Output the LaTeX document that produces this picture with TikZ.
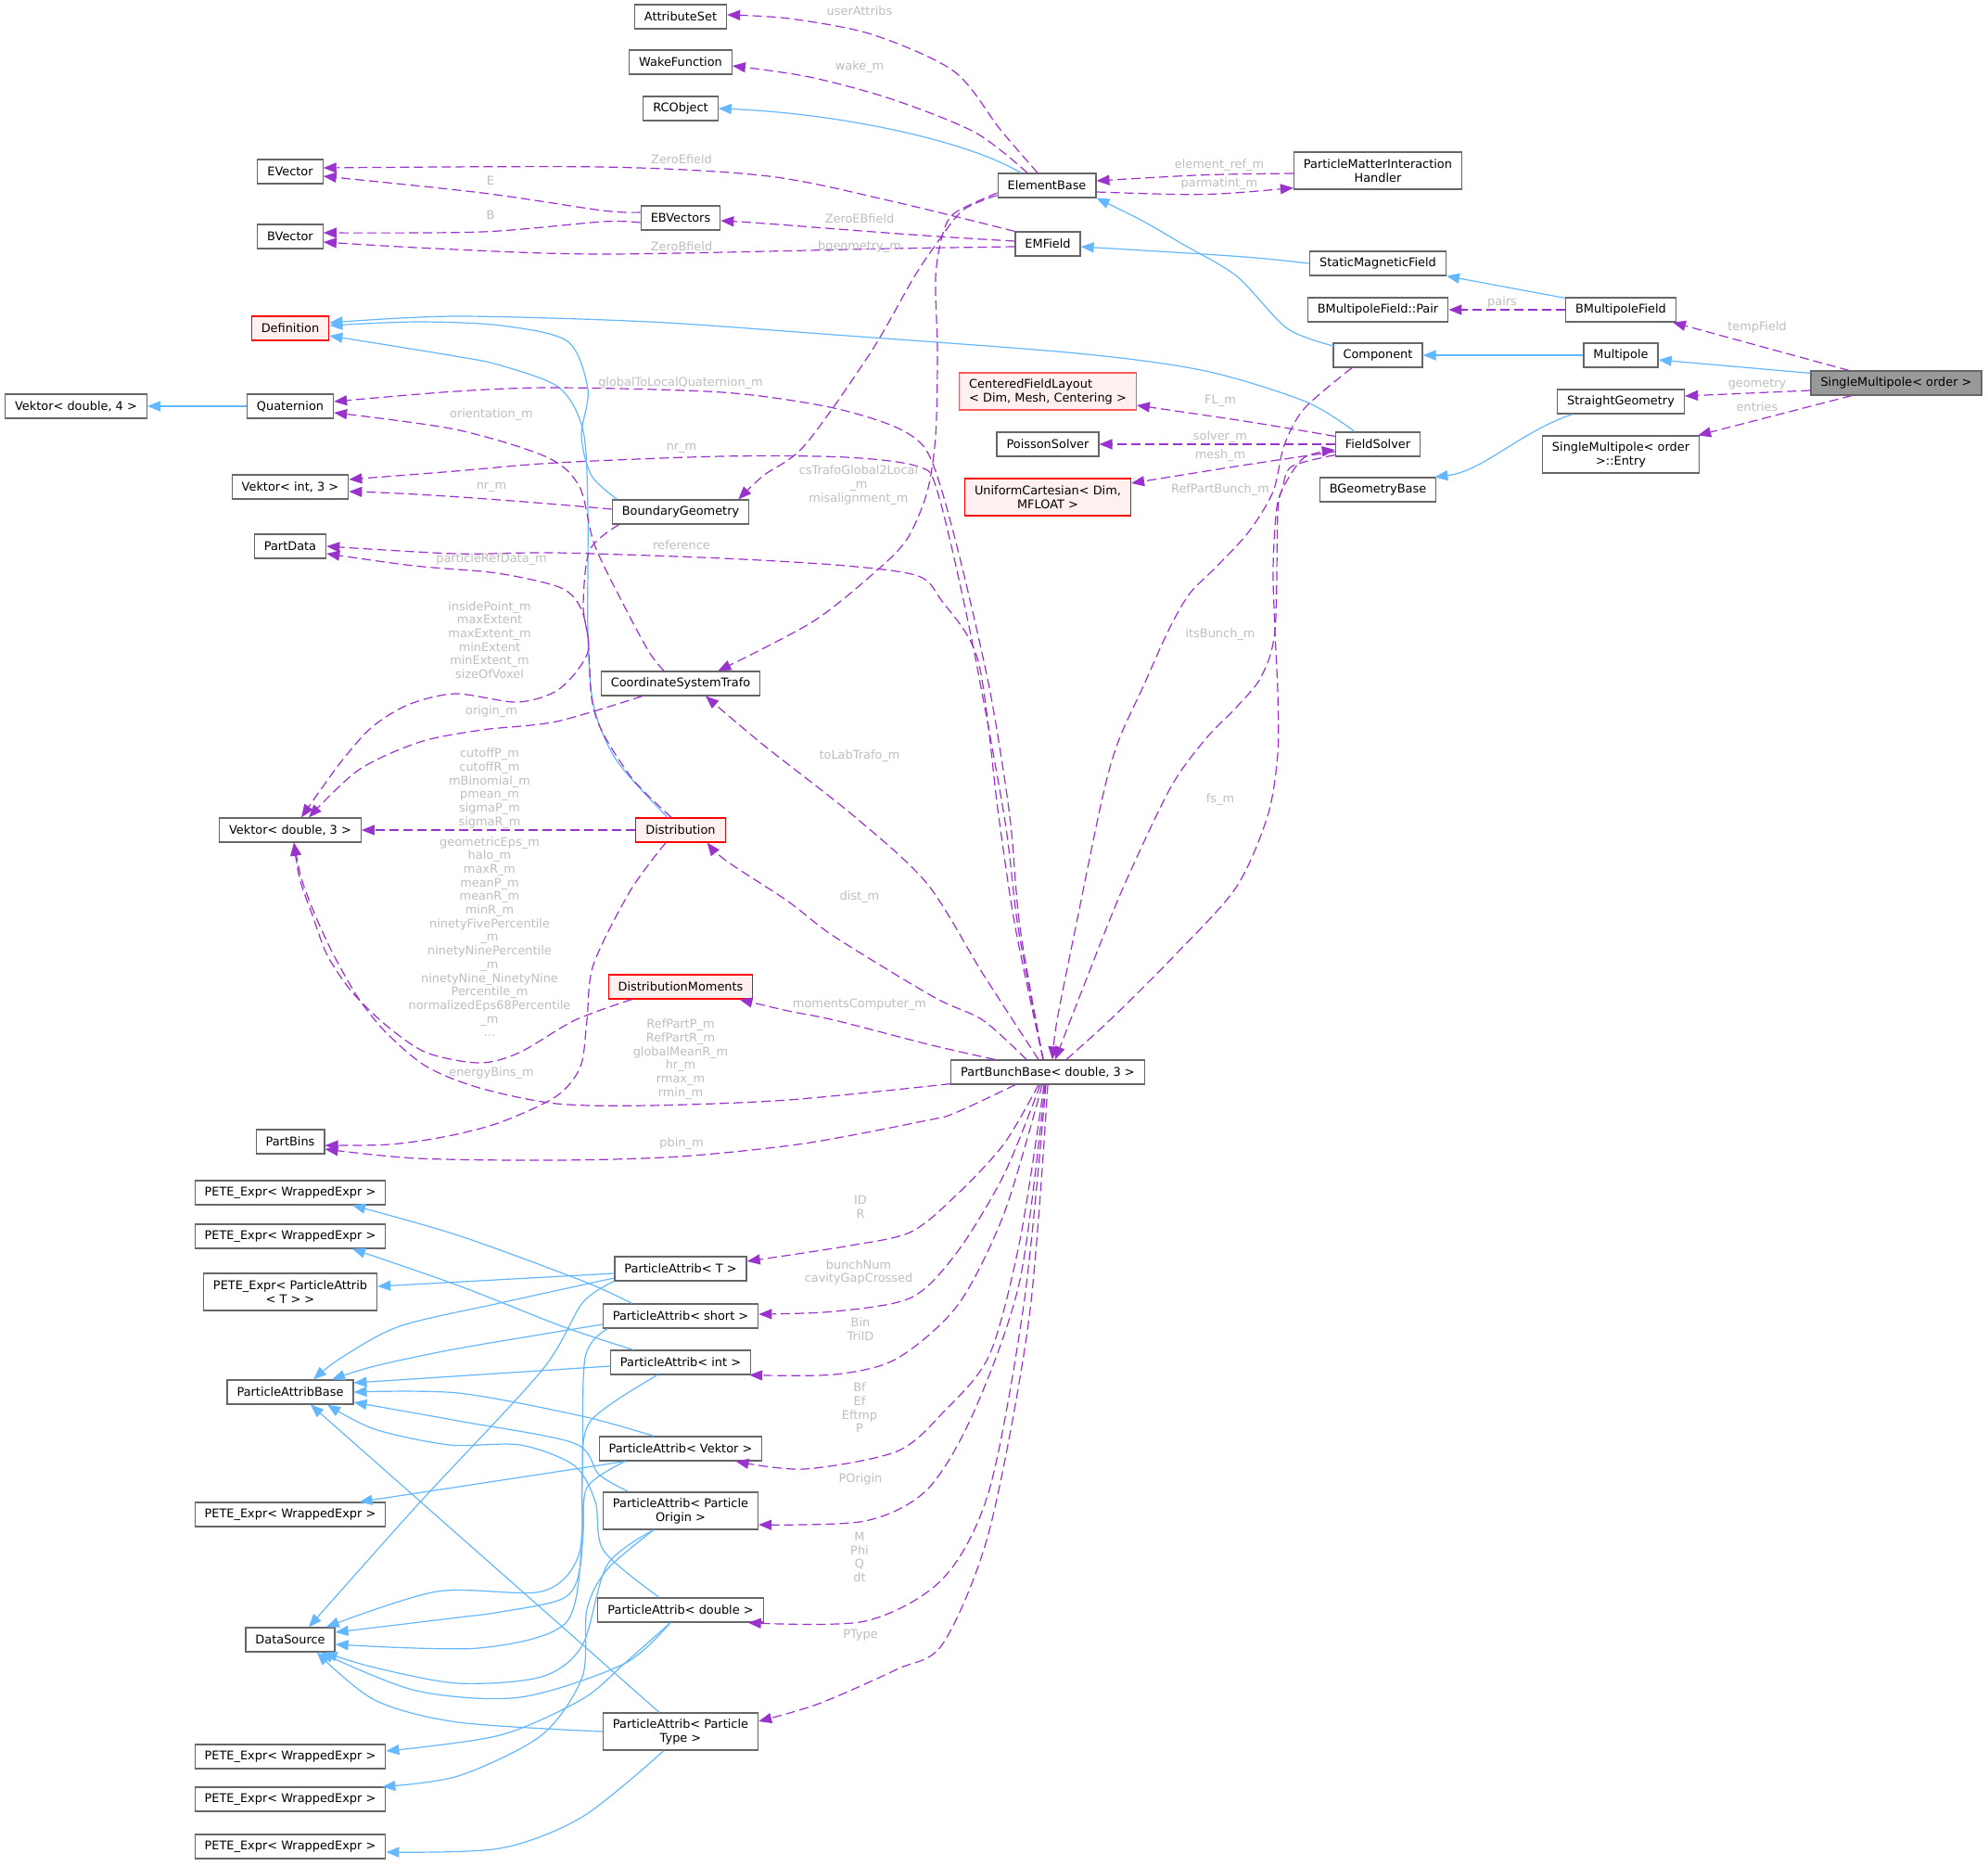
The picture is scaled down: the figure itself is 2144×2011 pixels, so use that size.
\documentclass[tikz,border=0pt]{standalone}
\usepackage{fontspec}
\setmainfont{DejaVu Sans}
\usetikzlibrary{arrows.meta,calc}
\definecolor{nodegray}{RGB}{102,102,102}
\definecolor{inhblue}{RGB}{99,184,255}
\definecolor{usepurple}{RGB}{154,50,205}
\definecolor{lblgray}{RGB}{190,190,190}
\definecolor{pinkfill}{RGB}{255,240,240}
\definecolor{lightred}{RGB}{255,90,90}
\definecolor{selfill}{RGB}{153,153,153}
\newcommand{\nfont}{\fontsize{12.9}{15}\selectfont}
\newcommand{\lfont}{\fontsize{12.9}{14.7}\selectfont}
\begin{document}
\begin{tikzpicture}[x=1pt,y=-1pt,
  box/.style={draw=nodegray, line width=1.2pt, fill=white, font=\nfont, inner xsep=10.5pt, inner ysep=5pt, minimum height=26pt, align=center},
  tall/.style={minimum height=40pt},
  redbox/.style={box, draw=red, fill=pinkfill},
  inh/.style={draw=inhblue, line width=1.2pt, -{Triangle[length=14pt,width=11pt]}},
  use/.style={draw=usepurple, line width=1.2pt, dash pattern=on 10pt off 5pt, -{Triangle[length=14pt,width=11pt]}},
  lbl/.style={font=\lfont, text=lblgray, align=center, inner sep=0pt},
]
\fill[white] (0,0) rectangle (2144,2011);
\useasboundingbox (0,0) rectangle (2144,2011);

% ---------- nodes ----------
\node[box] (attr) at (734,18) {AttributeSet};
\node[box] (wake) at (734,67) {WakeFunction};
\node[box] (rco) at (734,117) {RCObject};
\node[box] (evec) at (313,185) {EVector};
\node[box] (ebv) at (734,235) {EBVectors};
\node[box] (bvec) at (313,255) {BVector};
\node[box] (elem) at (1129,200) {ElementBase};
\node[box] (emf) at (1130,263) {EMField};
\node[box, tall] (pmih) at (1486,184) {ParticleMatterInteraction\\Handler};
\node[box] (smf) at (1486,284) {StaticMagneticField};
\node[box] (pair) at (1486,334) {BMultipoleField::Pair};
\node[box] (bmf) at (1748,334) {BMultipoleField};
\node[box] (comp) at (1486,383) {Component};
\node[box] (mpole) at (1748,383) {Multipole};
\node[box, fill=selfill] (smp) at (2045,413) {SingleMultipole< order >};
\node[box] (sgeo) at (1748,433) {StraightGeometry};
\node[box, tall] (entry) at (1748,490) {SingleMultipole< order\\>::Entry};
\node[box] (fsol) at (1486,479) {FieldSolver};
\node[box] (bgb) at (1486,528) {BGeometryBase};
\node[redbox] (defn) at (313,354) {Definition};
\node[box] (vek4) at (82,438) {Vektor< double, 4 >};
\node[box] (quat) at (313,438) {Quaternion};
\node[box] (vint3) at (313,525) {Vektor< int, 3 >};
\node[box] (pdata) at (313,589) {PartData};
\node[box] (bgeom) at (734,552) {BoundaryGeometry};
\node[box] (cst) at (734,737) {CoordinateSystemTrafo};
\node[redbox, tall, draw=lightred, align=left] (cfl) at (1130,422) {CenteredFieldLayout\\< Dim, Mesh, Centering >};
\node[box] (pois) at (1130,479) {PoissonSolver};
\node[redbox, tall] (ucart) at (1130,536) {UniformCartesian< Dim,\\MFLOAT >};
\node[box] (vd3) at (313,895) {Vektor< double, 3 >};
\node[redbox] (dist) at (734,895) {Distribution};
\node[redbox] (dmom) at (734,1064) {DistributionMoments};
\node[box] (pbb) at (1130,1156) {PartBunchBase< double, 3 >};
\node[box] (pbins) at (313,1231) {PartBins};
\node[box] (pete1) at (313,1286) {PETE\_Expr< WrappedExpr >};
\node[box] (pete2) at (313,1333) {PETE\_Expr< WrappedExpr >};
\node[box, tall] (petepa) at (313,1393) {PETE\_Expr< ParticleAttrib\\< T > >};
\node[box] (pab) at (313,1501) {ParticleAttribBase};
\node[box] (pete3) at (313,1633) {PETE\_Expr< WrappedExpr >};
\node[box] (dsrc) at (313,1768) {DataSource};
\node[box] (pete4) at (313,1894) {PETE\_Expr< WrappedExpr >};
\node[box] (pete5) at (313,1940) {PETE\_Expr< WrappedExpr >};
\node[box] (pete6) at (313,1991) {PETE\_Expr< WrappedExpr >};
\node[box] (pat) at (734,1368) {ParticleAttrib< T >};
\node[box] (pash) at (734,1419) {ParticleAttrib< short >};
\node[box] (paint) at (734,1469) {ParticleAttrib< int >};
\node[box] (pavek) at (734,1562) {ParticleAttrib< Vektor >};
\node[box, tall] (papo) at (734,1629) {ParticleAttrib< Particle\\Origin >};
\node[box] (padbl) at (734,1736) {ParticleAttrib< double >};
\node[box, tall] (papt) at (734,1867) {ParticleAttrib< Particle\\Type >};

% ---------- inheritance (blue) ----------
\draw[inh] ($(elem.north)+(-28,0)$) .. controls (1040,150) and (900,122) .. (rco.east);
\draw[inh] plot[smooth] coordinates {($(comp.north west)+(2,4)$) (1388,354) (1334,298) (1275,263) (1230,237) (elem.south east)};
\draw[inh] (smf.west) .. controls (1350,277) .. ($(emf.east)+(0,3)$);
\draw[inh] ($(bmf.north west)+(0,1)$) -- (smf.south east);
\draw[inh] (mpole.west) -- (comp.east);
\draw[inh] ($(smp.north west)+(0,3)$) -- ($(mpole.east)+(0,5)$);
\draw[inh] ($(sgeo.south west)+(17,0)$) .. controls (1640,465) and (1600,508) .. ($(bgb.north east)+(-2,0)$);
\draw[inh] plot[smooth] coordinates {($(fsol.north)+(-25,0)$) (1408,433) (1300,400) (1162,381) (900,361) (700,347) (491,341) ($(defn.east)+(0,-6)$)};
\draw[inh] plot[smooth] coordinates {($(bgeom.north west)+(6,0)$) (638,513) (627,470) (634,420) (612,368) (540,351) (450,347) ($(defn.east)+(0,-3)$)};
\draw[inh] plot[smooth] coordinates {($(dist.north)+(-14,0)$) (665,820) (640,760) (634,680) (634,553) (629,465) (603,418) (540,394) (491,384) ($(defn.east)+(0,8)$)};
\draw[inh] (quat.west) -- (vek4.east);

% ParticleAttrib inheritance
\draw[inh] ($(pat.west)+(0,5)$) -- ($(petepa.east)+(0,-6)$);
\draw[inh] plot[smooth] coordinates {($(pat.west)+(0,10)$) (539,1405) (431,1430) (368,1464) ($(pab.north)+(25,0)$)};
\draw[inh] plot[smooth] coordinates {(pat.south west) (628,1405) (584,1478) (449,1624) ($(dsrc.north)+(20,0)$)};
\draw[inh] plot[smooth] coordinates {($(pash.north west)+(32,0)$) (628,1381) (494,1332) ($(pete1.south)+(67,0)$)};
\draw[inh] plot[smooth] coordinates {($(pash.west)+(0,9)$) (494,1454) (404,1473) ($(pab.north)+(45,0)$)};
\draw[inh] plot[smooth] coordinates {($(pash.south west)+(6,0)$) (631,1464) (628,1590) (624,1677) (584,1716) (471,1716) ($(dsrc.north east)+(-10,0)$)};
\draw[inh] plot[smooth] coordinates {($(paint.north west)+(25,0)$) (606,1430) (494,1386) ($(pete2.south)+(67,0)$)};
\draw[inh] ($(paint.west)+(0,4)$) -- ($(pab.east)+(0,-10)$);
\draw[inh] plot[smooth] coordinates {($(paint.south)+(-25,0)$) (637,1532) (628,1590) (627,1680) (610,1722) (540,1738) (494,1744) ($(dsrc.east)+(0,-8)$)};
\draw[inh] plot[smooth] coordinates {($(pavek.north)+(-29,0)$) (628,1527) (494,1502) (pab.east)};
\draw[inh] ($(pavek.south west)+(29,0)$) -- ($(pete3.north east)+(-29,0)$);
\draw[inh] plot[smooth] coordinates {($(pavek.south west)+(29,0)$) (633,1604) (628,1663) (610,1750) (516,1777) ($(dsrc.east)+(0,5)$)};
\draw[inh] plot[smooth] coordinates {($(papo.north)+(-56,0)$) (646,1590) (619,1556) (494,1532) ($(pab.east)+(0,11)$)};
\draw[inh] plot[smooth] coordinates {($(papo.south)+(-29,0)$) (655,1687) (628,1774) (584,1808) (494,1815) (404,1798) ($(dsrc.south east)+(-12,0)$)};
\draw[inh] plot[smooth] coordinates {($(papo.south)+(-29,0)$) (655,1692) (633,1735) (628,1808) (584,1871) (494,1915) ($(pete5.north east)+(-4,0)$)};
\draw[inh] plot[smooth] coordinates {($(padbl.north)+(-23,0)$) (651,1672) (642,1619) (619,1580) (561,1558) (485,1558) (404,1541) ($(pab.south)+(40,0)$)};
\draw[inh] plot[smooth] coordinates {($(padbl.south)+(-11,0)$) (673,1794) (561,1830) (449,1823) ($(dsrc.south east)+(-16,0)$)};
\draw[inh] plot[smooth] coordinates {($(padbl.south)+(-11,0)$) (673,1794) (628,1832) (539,1871) ($(pete4.east)+(0,-6)$)};
\draw[inh] ($(papt.north)+(-23,0)$) -- ($(pab.south)+(22,0)$);
\draw[inh] plot[smooth] coordinates {(papt.west) (494,1857) (404,1833) ($(dsrc.south east)+(-20,0)$)};
\draw[inh] plot[smooth] coordinates {($(papt.south)+(-18,0)$) (628,1959) (539,1993) ($(pete6.east)+(0,6)$)};

% ---------- usage (purple dashed) ----------
\draw[use] plot[smooth] coordinates {($(elem.north)+(-10,0)$) (1079,140) (1029,77) (940,37) (851,20) ($(attr.east)+(0,-2)$)};
\draw[use] plot[smooth] coordinates {($(elem.north)+(-21,0)$) (1052,143) (962,107) (873,83) ($(wake.east)+(0,4)$)};
\draw[use] plot[smooth] coordinates {(emf.north west) (962,217) (829,190) (650,180) ($(evec.east)+(0,-4)$)};
\draw[use] plot[smooth] coordinates {($(ebv.west)+(0,-6)$) (650,227) (520,208) ($(evec.east)+(0,5)$)};
\draw[use] plot[smooth] coordinates {($(ebv.west)+(0,5)$) (650,239) (520,250) ($(bvec.east)+(0,-4)$)};
\draw[use] ($(emf.west)+(0,-3)$) .. controls (950,252) and (850,242) .. ($(ebv.east)+(0,3)$);
\draw[use] plot[smooth] coordinates {($(emf.west)+(0,3)$) (962,268) (650,274) (470,268) ($(bvec.east)+(0,6)$)};
\draw[use] ($(pmih.west)+(0,3)$) .. controls (1300,188) .. ($(elem.east)+(0,-5)$);
\draw[use] ($(elem.east)+(0,7)$) .. controls (1300,211) .. ($(pmih.south west)+(0,-2)$);
\draw[use] (bmf.west) -- (pair.east);
\draw[use] ($(smp.north)+(-51,0)$) -- ($(bmf.south east)+(-4,0)$);
\draw[use] ($(smp.west)+(0,8)$) -- ($(sgeo.east)+(0,-6)$);
\draw[use] ($(smp.south)+(-48,0)$) -- ($(entry.north east)+(-2,0)$);
\draw[use] ($(fsol.north west)+(0,5)$) .. controls (1350,455) .. ($(cfl.east)+(0,15)$);
\draw[use] (fsol.west) -- (pois.east);
\draw[use] ($(fsol.west)+(0,8)$) .. controls (1350,500) .. ($(ucart.east)+(0,-15)$);
\draw[use] plot[smooth] coordinates {($(elem.south west)+(0,-3)$) (1038,227) (1007,267) (985,300) (939,380) (868,480) (823,513) ($(bgeom.north east)+(-12,0)$)};
\draw[use] plot[smooth] coordinates {($(elem.west)+(0,8)$) (1029,230) (1016,255) (1009,300) (1011,380) (1009,470) (1000,530) (979,580) (948,613) (877,670) ($(cst.north east)+(-46,0)$)};
\draw[use] plot[smooth] coordinates {($(pbb.north)+(-5,0)$) (1100,1000) (1089,880) (1068,747) (1038,613) (1013,520) (995,480) (960,458) (890,438) (779,423) (600,418) (491,422) ($(quat.east)+(0,-5)$)};
\draw[use] plot[smooth] coordinates {($(pbb.north)+(-5,0)$) (1098,1000) (1083,880) (1046,680) (1011,530) (990,503) (912,493) (779,492) (600,499) (491,508) ($(vint3.east)+(0,-8)$)};
\draw[use] plot[smooth] coordinates {($(pbb.north)+(-5,0)$) (1095,1000) (1077,880) (1055,713) (1015,647) (990,621) (912,610) (779,602) (600,596) (491,597) (pdata.east)};
\draw[use] plot[smooth] coordinates {($(cst.north)+(-18,0)$) (700,703) (673,653) (641,587) (625,525) (590,493) (491,463) ($(quat.east)+(0,7)$)};
\draw[use] ($(bgeom.west)+(0,-3)$) .. controls (560,540) and (450,532) .. ($(vint3.east)+(0,5)$);
\draw[use] plot[smooth] coordinates {($(dist.north)+(-10,0)$) (683,841) (650,790) (638,753) (634,687) (625,653) (603,633) (536,618) (446,610) ($(pdata.east)+(0,8)$)};
\draw[use] plot[smooth] coordinates {($(bgeom.south west)+(8,0)$) (636,593) (629,653) (634,703) (603,743) (558,757) (491,748) (440,760) (400,785) (365,825) ($(vd3.north)+(12,0)$)};
\draw[use] plot[smooth] coordinates {($(cst.south west)+(45,0)$) (600,778) (520,787) (453,800) (387,830) ($(vd3.north)+(20,0)$)};
\draw[use] (dist.west) -- (vd3.east);
\draw[use] plot[smooth] coordinates {($(dmom.south west)+(26,0)$) (620,1100) (560,1135) (517,1146) (460,1135) (417,1106) (380,1070) (353,1030) (337,987) (323,947) ($(vd3.south)+(4,0)$)};
\draw[use] plot[smooth] coordinates {($(pbb.south west)+(0,-1)$) (850,1186) (700,1192) (600,1190) (517,1173) (460,1150) (417,1114) (387,1077) (360,1030) (340,987) (325,947) ($(vd3.south)+(4,0)$)};
\draw[use] plot[smooth] coordinates {($(dist.south)+(-16,0)$) (680,960) (640,1040) (633,1100) (626,1150) (600,1182) (540,1210) (483,1225) (420,1234) ($(pbins.east)+(0,4)$)};
\draw[use] plot[smooth] coordinates {($(pbb.south)+(-35,0)$) (1030,1200) (1000,1208) (867,1233) (733,1247) (600,1251) (450,1249) ($(pbins.east)+(0,8)$)};
\draw[use] plot[smooth] coordinates {($(pbb.north)+(-57,0)$) (1005,1127) (900,1100) (850,1090) ($(dmom.south east)+(-15,0)$)};
\draw[use] plot[smooth] coordinates {($(pbb.north)+(-23,0)$) (1060,1100) (1007,1075) (900,1010) (850,972) (783,928) ($(dist.south east)+(-20,0)$)};
\draw[use] plot[smooth] coordinates {($(pbb.north)+(-10,0)$) (1060,1050) (1000,953) (921,880) (823,803) ($(cst.south)+(27,0)$)};
\draw[use] plot[smooth] coordinates {($(comp.south)+(-28,0)$) (1407,440) (1385,480) (1373,530) (1347,573) (1313,610) (1283,640) (1260,680) (1233,740) (1207,797) (1190,855) (1160,1000) (1140,1100) ($(pbb.north)+(5,0)$)};
\draw[use] plot[smooth] coordinates {($(fsol.south west)+(0,-2)$) (1393,503) (1383,527) (1378,553) (1375,680) (1360,730) (1333,763) (1300,797) (1262,850) (1210,960) (1170,1060) ($(pbb.north)+(8,0)$)};
\draw[use] plot[smooth] coordinates {($(pbb.north)+(20,0)$) (1200,1097) (1267,1030) (1333,957) (1367,880) (1378,813) (1378,747) (1375,680) (1373,613) (1377,547) (1387,520) (1407,493) ($(fsol.west)+(0,6)$)};
\draw[use] plot[smooth] coordinates {($(pbb.south)+(-10,0)$) (1083,1233) (1033,1287) (983,1328) (917,1343) ($(pat.east)+(0,-8)$)};
\draw[use] plot[smooth] coordinates {($(pbb.south)+(-8,0)$) (1083,1266) (1033,1349) (983,1399) (900,1414) ($(pash.east)+(0,-2)$)};
\draw[use] plot[smooth] coordinates {($(pbb.south)+(-6,0)$) (1083,1308) (1033,1407) (967,1465) (900,1482) ($(paint.south east)+(-2,0)$)};
\draw[use] plot[smooth] coordinates {($(pbb.south)+(-4,0)$) (1100,1337) (1067,1461) (1017,1523) (967,1565) (867,1584) ($(pavek.south east)+(-29,0)$)};
\draw[use] plot[smooth] coordinates {($(pbb.south)+(-3,0)$) (1100,1380) (1050,1523) (1000,1606) (933,1640) ($(papo.east)+(0,15)$)};
\draw[use] plot[smooth] coordinates {($(pbb.south)+(-2,0)$) (1105,1400) (1067,1606) (1017,1702) (933,1748) ($(padbl.south east)+(-17,0)$)};
\draw[use] plot[smooth] coordinates {(pbb.south) (1110,1420) (1067,1650) (1017,1772) (967,1800) (883,1837) ($(papt.east)+(0,-11)$)};

% ---------- labels ----------
\node[lbl] (t1) at (927,12) {userAttribs};
\node[lbl] (t2) at (927,72) {wake\_m};
\node[lbl] (t3) at (735,172) {ZeroEfield};
\node[lbl] (t4) at (529,195) {E};
\node[lbl] (t5) at (529,232) {B};
\node[lbl] (t6) at (927,236) {ZeroEBfield};
\node[lbl] (t7) at (735,266) {ZeroBfield};
\node[lbl] (t8) at (927,266) {bgeometry\_m};
\node[lbl] (t9) at (1315,178) {element\_ref\_m};
\node[lbl] (t10) at (1315,198) {parmatint\_m};
\node[lbl] (t11) at (1620,326) {pairs};
\node[lbl] (t12) at (1895,353) {tempField};
\node[lbl] (t13) at (1895,414) {geometry};
\node[lbl] (t14) at (1895,439) {entries};
\node[lbl] (t15) at (1316,432) {FL\_m};
\node[lbl] (t16) at (1316,471) {solver\_m};
\node[lbl] (t17) at (1316,491) {mesh\_m};
\node[lbl] (t18) at (1316,528) {RefPartBunch\_m};
\node[lbl] (t19) at (1316,684) {itsBunch\_m};
\node[lbl] (t20) at (1316,862) {fs\_m};
\node[lbl] (t21) at (734,413) {globalToLocalQuaternion\_m};
\node[lbl] (t22) at (530,447) {orientation\_m};
\node[lbl] (t23) at (735,483) {nr\_m};
\node[lbl] (t24) at (530,525) {nr\_m};
\node[lbl] (t25) at (926,523) {csTrafoGlobal2Local\\\_m\\misalignment\_m};
\node[lbl] (t26) at (735,588) {reference};
\node[lbl] (t27) at (530,603) {particleRefData\_m};
\node[lbl] (t28) at (528,690) {insidePoint\_m\\maxExtent\\maxExtent\_m\\minExtent\\minExtent\_m\\sizeOfVoxel};
\node[lbl] (t29) at (530,767) {origin\_m};
\node[lbl] (t30) at (528,850) {cutoffP\_m\\cutoffR\_m\\mBinomial\_m\\pmean\_m\\sigmaP\_m\\sigmaR\_m};
\node[lbl] (t31) at (927,815) {toLabTrafo\_m};
\node[lbl] (t32) at (927,967) {dist\_m};
\node[lbl] (t33) at (528,1010) {geometricEps\_m\\halo\_m\\maxR\_m\\meanP\_m\\meanR\_m\\minR\_m\\ninetyFivePercentile\\\_m\\ninetyNinePercentile\\\_m\\ninetyNine\_NinetyNine\\Percentile\_m\\normalizedEps68Percentile\\\_m\\...};
\node[lbl] (t34) at (927,1083) {momentsComputer\_m};
\node[lbl] (t35) at (734,1142) {RefPartP\_m\\RefPartR\_m\\globalMeanR\_m\\hr\_m\\rmax\_m\\rmin\_m};
\node[lbl] (t36) at (530,1157) {energyBins\_m};
\node[lbl] (t37) at (735,1233) {pbin\_m};
\node[lbl] (t38) at (928,1301) {ID\\R};
\node[lbl] (t39) at (926,1372) {bunchNum\\cavityGapCrossed};
\node[lbl] (t40) at (928,1433) {Bin\\TriID};
\node[lbl] (t41) at (927,1518) {Bf\\Ef\\Eftmp\\P};
\node[lbl] (t42) at (928,1595) {POrigin};
\node[lbl] (t43) at (927,1679) {M\\Phi\\Q\\dt};
\node[lbl] (t44) at (928,1763) {PType};
\end{tikzpicture}
\end{document}
